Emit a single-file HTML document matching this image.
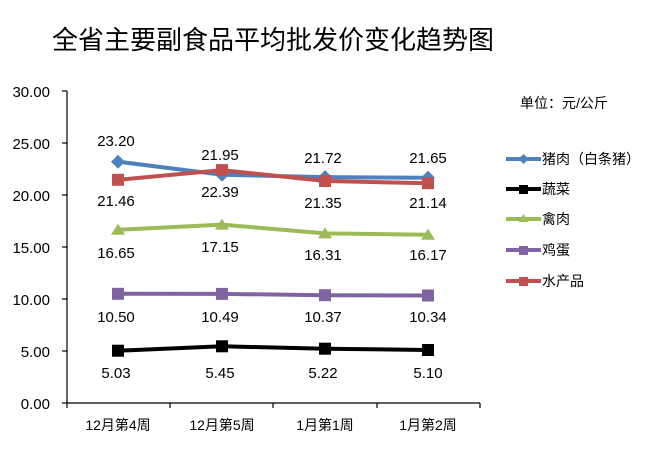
<!DOCTYPE html><html><head><meta charset="utf-8"><style>body{margin:0;background:#fff}svg text{font-family:"Liberation Sans","Noto Sans CJK SC",sans-serif}</style></head><body>
<svg width="667" height="452" xmlns="http://www.w3.org/2000/svg">
<rect width="667" height="452" fill="#fff"/>
<text x="52" y="49" font-size="26" fill="#000">全省主要副食品平均批发价变化趋势图</text>
<g stroke="#000" stroke-width="1.2" fill="none">
<line x1="67" y1="91" x2="67" y2="403"/><line x1="67" y1="403" x2="480" y2="403"/>
<line x1="62" y1="91" x2="67" y2="91"/><line x1="62" y1="143" x2="67" y2="143"/><line x1="62" y1="195" x2="67" y2="195"/><line x1="62" y1="247" x2="67" y2="247"/><line x1="62" y1="299" x2="67" y2="299"/><line x1="62" y1="351" x2="67" y2="351"/><line x1="62" y1="403" x2="67" y2="403"/>
<line x1="67" y1="403" x2="67" y2="408"/><line x1="170" y1="403" x2="170" y2="408"/><line x1="273" y1="403" x2="273" y2="408"/><line x1="377" y1="403" x2="377" y2="408"/><line x1="480" y1="403" x2="480" y2="408"/>
</g>
<g font-size="15" text-anchor="end" fill="#000">
<text x="50" y="97">30.00</text><text x="50" y="149">25.00</text><text x="50" y="201">20.00</text><text x="50" y="253">15.00</text><text x="50" y="305">10.00</text><text x="50" y="357">5.00</text><text x="50" y="409">0.00</text>
</g>
<g font-size="14" text-anchor="middle" fill="#000">
<text x="118" y="430">12月第4周</text><text x="222" y="430">12月第5周</text><text x="325" y="430">1月第1周</text><text x="428" y="430">1月第2周</text>
</g>
<g stroke-width="4" fill="none">
<polyline stroke="#4f81bd" points="118,161.7 222,174.7 325,177.1 428,177.8"/>
<polyline stroke="#c0504d" points="118,179.8 222,170.1 325,181 428,183.2"/>
<polyline stroke="#9bbb59" points="118,229.8 222,224.6 325,233.4 428,234.8"/>
<polyline stroke="#8064a2" points="118,293.8 222,293.9 325,295.2 428,295.5"/>
<polyline stroke="#000" points="118,350.7 222,346.3 325,348.7 428,350"/>
</g>
<g fill="#4f81bd"><path d="M118 154.7l7 7-7 7-7-7z"/><path d="M222 167.7l7 7-7 7-7-7z"/><path d="M325 170.1l7 7-7 7-7-7z"/><path d="M428 170.8l7 7-7 7-7-7z"/></g>
<g fill="#c0504d"><rect x="112" y="173.8" width="12" height="12"/><rect x="216" y="164.1" width="12" height="12"/><rect x="319" y="175" width="12" height="12"/><rect x="422" y="177.2" width="12" height="12"/></g>
<g fill="#9bbb59"><path d="M118 223.8l7 11h-14z"/><path d="M222 218.6l7 11h-14z"/><path d="M325 227.4l7 11h-14z"/><path d="M428 228.8l7 11h-14z"/></g>
<g fill="#8064a2"><rect x="112" y="287.8" width="12" height="12"/><rect x="216" y="287.9" width="12" height="12"/><rect x="319" y="289.2" width="12" height="12"/><rect x="422" y="289.5" width="12" height="12"/></g>
<g fill="#000"><rect x="112" y="344.7" width="12" height="12"/><rect x="216" y="340.3" width="12" height="12"/><rect x="319" y="342.7" width="12" height="12"/><rect x="422" y="344" width="12" height="12"/></g>
<g font-size="15" text-anchor="middle" fill="#000">
<text x="116" y="146">23.20</text><text x="220" y="160">21.95</text><text x="323" y="163">21.72</text><text x="428" y="163">21.65</text>
<text x="116" y="206">21.46</text><text x="220" y="197">22.39</text><text x="323" y="208">21.35</text><text x="428" y="208">21.14</text>
<text x="116" y="258">16.65</text><text x="220" y="252">17.15</text><text x="323" y="260">16.31</text><text x="428" y="260">16.17</text>
<text x="116" y="322">10.50</text><text x="220" y="322">10.49</text><text x="323" y="322">10.37</text><text x="428" y="322">10.34</text>
<text x="116" y="378">5.03</text><text x="220" y="378">5.45</text><text x="323" y="378">5.22</text><text x="428" y="378">5.10</text>
</g>
<text x="520" y="108" font-size="14" fill="#000">单位：元/公斤</text>
<g stroke-width="4"><line x1="506" y1="159" x2="541" y2="159" stroke="#4f81bd"/><line x1="506" y1="189" x2="541" y2="189" stroke="#000"/><line x1="506" y1="219" x2="541" y2="219" stroke="#9bbb59"/><line x1="506" y1="250" x2="541" y2="250" stroke="#8064a2"/><line x1="506" y1="281" x2="541" y2="281" stroke="#c0504d"/></g>
<path d="M523.5 154l5 5-5 5-5-5z" fill="#4f81bd"/><rect x="519" y="185" width="9" height="9" fill="#000"/><path d="M523.5 214l5 8h-10z" fill="#9bbb59"/><rect x="519" y="246" width="9" height="9" fill="#8064a2"/><rect x="519" y="277" width="9" height="9" fill="#c0504d"/>
<g font-size="14" fill="#000"><text x="542" y="164">猪肉（白条猪）</text><text x="542" y="194">蔬菜</text><text x="542" y="224">禽肉</text><text x="542" y="255">鸡蛋</text><text x="542" y="286">水产品</text></g>
</svg></body></html>
